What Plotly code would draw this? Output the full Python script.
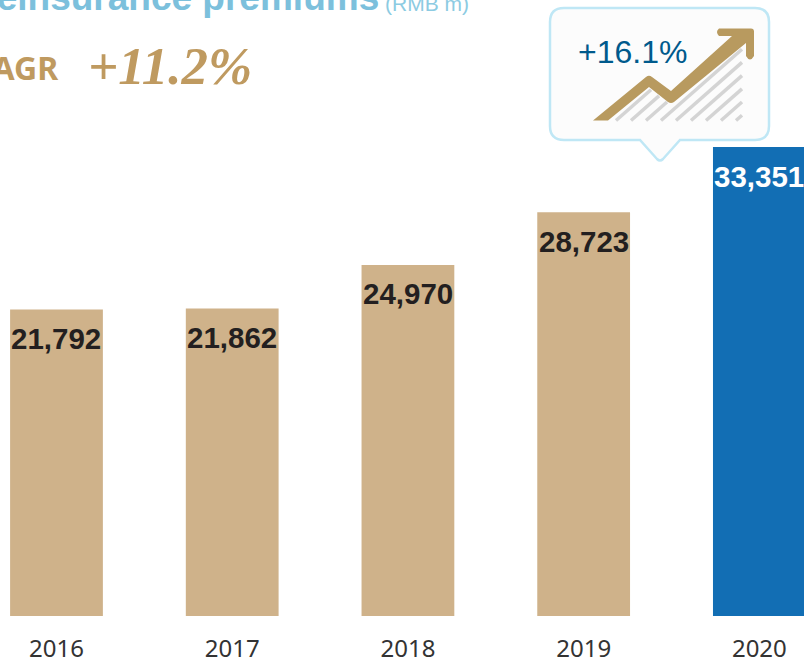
import plotly.graph_objects as go

years = ["2016", "2017", "2018", "2019", "2020"]
premiums = [21792, 21862, 24970, 28723, 33351]
bar_colors = ["#cfb28a", "#cfb28a", "#cfb28a", "#cfb28a", "#126eb4"]
label_colors = ["#231f20", "#231f20", "#231f20", "#231f20", "#ffffff"]
title_text = "Reinsurance premiums"
unit_text = "(RMB m)"
cagr_label = "CAGR"
cagr_value = "+11.2%"
growth_text = "+16.1%"

W, H, BOTTOM = 804, 660, 44
PLOT_H = H - BOTTOM


def px(x):
    return x / W


def py(y):
    return 1 - y / PLOT_H


def path(points, close=True):
    s = ""
    for i, (cmd, pts) in enumerate(points):
        s += cmd + " ".join(f"{px(a):.5f},{py(b):.5f}" for a, b in pts) + " "
    return s + ("Z" if close else "")


fig = go.Figure(go.Bar(x=years, y=premiums, marker=dict(color=bar_colors, line_width=0), width=0.528, hoverinfo="skip"))

annotations = []
for i, (v, c) in enumerate(zip(premiums, label_colors)):
    annotations.append(dict(x=i, y=v, xref="x", yref="y", text=f"{v:,}", showarrow=False, yanchor="middle",
                            yshift=-29, font=dict(family="Liberation Sans", size=29.5, color=c, weight="bold")))


def note(text, x, y, size, color, family, anchor="left", weight="normal", style="normal"):
    annotations.append(dict(x=px(x), y=py(y), xref="paper", yref="paper", text=text, showarrow=False,
                            xanchor=anchor, yanchor="middle", borderpad=0, borderwidth=0,
                            font=dict(family=family, size=size, color=color, weight=weight, style=style)))


note(title_text, 379, -2, 37, "#7cc0dc", "Liberation Sans", "right", "bold")
note(unit_text, 385, 4, 21, "#8ccbe2", "Liberation Sans")
note(cagr_label, 59, 68, 32, "#bf9a60", "Noto Sans", "right", "bold")
note(cagr_value, 88, 66, 53, "#bf9a60", "Liberation Serif", "left", "bold", "italic")
note(growth_text, 578, 52, 32, "#005a8c", "Liberation Sans")

shapes = []
# Speech-bubble outline
bubble = [("M", [(564, 8)]), ("L", [(755, 8)]), ("Q", [(769, 8), (769, 22)]), ("L", [(769, 126)]),
          ("Q", [(769, 140), (755, 140)]), ("L", [(680, 140)]), ("L", [(663, 159)]),
          ("Q", [(660, 162), (657, 159)]), ("L", [(640, 140)]), ("L", [(564, 140)]),
          ("Q", [(550, 140), (550, 126)]), ("L", [(550, 22)]), ("Q", [(550, 8), (564, 8)])]
shapes.append(dict(type="path", xref="paper", yref="paper", path=path(bubble), fillcolor="#fcfcfc",
                   line=dict(color="#bfe7f5", width=2.5)))


# Hatching under the arrow
def lower_edge(x):
    if x < 649:
        return 120.5 - (x - 608) * 33.5 / 41
    if x < 671:
        return 87 + (x - 649) * 16 / 22
    return 103 - (x - 671) * 60 / 75


hatch_slope = 0.88
for k in range(9):
    x0 = 616 + 15 * k
    x = x0
    while x < 742:
        y = 120.5 - (x - x0) * hatch_slope
        if y < lower_edge(x) + 2:
            break
        x += 0.5
    y = 120.5 - (x - x0) * hatch_slope
    shapes.append(dict(type="line", xref="paper", yref="paper", x0=px(x0), y0=py(120.5), x1=px(x), y1=py(y),
                       line=dict(color="#d4d4d4", width=3.5)))

# Growth arrow
arrow = [("M", [(593, 120.5)]), ("L", [(646, 77)]), ("Q", [(649, 74.5), (652, 77)]), ("L", [(671, 91)]),
         ("L", [(732, 36)]), ("L", [(719, 36)]), ("Q", [(715, 32), (719, 28.5)]), ("L", [(751, 28.5)]),
         ("Q", [(754, 28.5), (754, 31.5)]), ("L", [(754, 56)]), ("Q", [(750, 63), (746, 56)]), ("L", [(746, 43)]),
         ("L", [(674, 102)]), ("Q", [(671, 104), (668, 102)]), ("L", [(649, 87)]), ("L", [(608, 120.5)])]
shapes.append(dict(type="path", xref="paper", yref="paper", path=path(arrow), fillcolor="#b89a5f", line_width=0))

fig.update_layout(
    width=W, height=H, margin=dict(l=0, r=0, t=0, b=BOTTOM, autoexpand=False),
    paper_bgcolor="white", plot_bgcolor="white", showlegend=False,
    annotations=annotations, shapes=shapes,
    xaxis=dict(type="category", range=[-0.3215, 4.254], ticks="outside", ticklen=11, tickcolor="rgba(0,0,0,0)",
               showline=False, showgrid=False, zeroline=False,
               tickfont=dict(family="Noto Sans", size=24, color="#333333")),
    yaxis=dict(range=[0, 43810], visible=False),
)
fig.write_html("out.html", config=dict(displayModeBar=False),
               post_script="document.body.style.margin='0';document.body.style.overflow='hidden';")
